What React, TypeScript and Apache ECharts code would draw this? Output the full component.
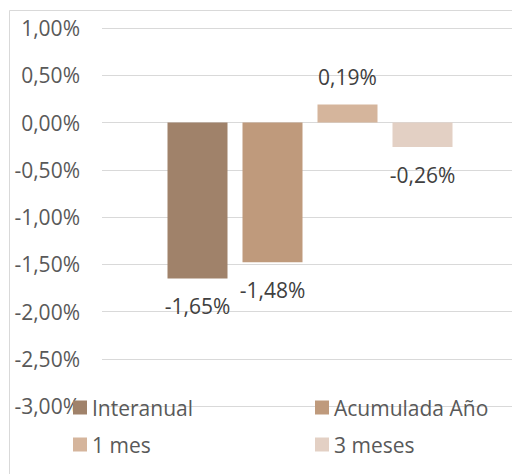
import React, { useEffect, useRef } from "react";
import * as echarts from "echarts";

const seriesNames = ["Interanual", "Acumulada Año", "1 mes", "3 meses"];
const seriesValues = [-1.65, -1.48, 0.19, -0.26];
const seriesColors = ["#A0826A", "#BF9A7C", "#D5B59C", "#E3D0C4"];
const categories = [""];

const fmt = (v: number) => v.toFixed(2).replace(".", ",") + "%";

export default function App() {
  const ref = useRef<HTMLDivElement>(null);
  useEffect(() => {
    const chart = echarts.init(ref.current!, null, { renderer: "svg" });
    const font = "'Open Sans', sans-serif";
    const legendPos = [
      { left: 73, top: 397 },
      { left: 315, top: 397 },
      { left: 73, top: 434 },
      { left: 315, top: 434 },
    ];
    chart.setOption({
      animation: false,
      textStyle: { fontFamily: font },
      graphic: [
        {
          type: "rect",
          shape: { x: 9.5, y: 10.5, width: 700, height: 700 },
          style: { fill: "none", stroke: "#d9d9d9", lineWidth: 1 },
          silent: true,
        },
      ],
      grid: { left: 102, right: 0, top: 28, bottom: 68 },
      xAxis: {
        type: "category",
        data: categories,
        axisLine: { show: false },
        axisTick: { show: false },
        axisLabel: { show: false },
      },
      yAxis: {
        type: "value",
        min: -3,
        max: 1,
        interval: 0.5,
        axisLine: { show: false },
        axisTick: { show: false },
        splitLine: { lineStyle: { color: "#d9d9d9", width: 1 } },
        axisLabel: {
          formatter: (v: number) => fmt(v),
          color: "#595959",
          fontSize: 21,
          fontFamily: font,
          margin: 22,
        },
      },
      legend: seriesNames.map((n, i) => ({
        data: [n],
        left: legendPos[i].left,
        top: legendPos[i].top,
        icon: "rect",
        itemWidth: 14,
        itemHeight: 14,
        itemGap: 5,
        padding: 0,
        textStyle: { color: "#595959", fontSize: 21, fontFamily: font, padding: [0, 0, 0, 0] },
      })),
      series: seriesNames.map((n, i) => ({
        name: n,
        type: "bar",
        barWidth: 60,
        barGap: "25%",
        itemStyle: { color: seriesColors[i] },
        data: [
          {
            value: seriesValues[i],
            label: {
              show: true,
              position: seriesValues[i] < 0 ? "bottom" : "top",
              distance: 17,
              formatter: (p: any) => fmt(p.value),
              color: "#404040",
              fontSize: 21,
              fontFamily: font,
            },
          },
        ],
      })),
    });
    return () => chart.dispose();
  }, []);
  return (
    <div
      style={{ position: "fixed", left: 0, top: 0, width: 512, height: 474, overflow: "hidden", background: "#fff" }}
    >
      <div ref={ref} style={{ width: 518, height: 474 }} />
    </div>
  );
}
